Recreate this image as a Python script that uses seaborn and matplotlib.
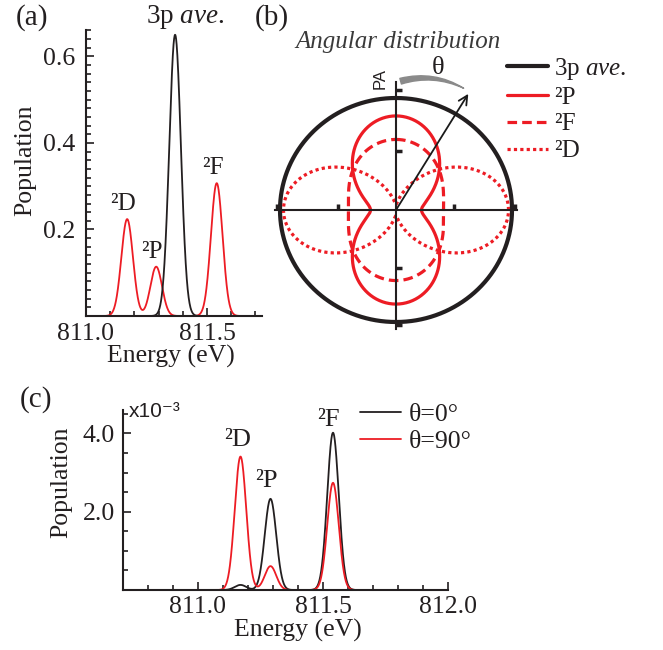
import numpy as np
import pandas as pd
import matplotlib
matplotlib.use('Agg')
import matplotlib.pyplot as plt
from matplotlib.ticker import MultipleLocator, FuncFormatter
import seaborn as sns

# ---- data ----
# peak centres of the three terms (eV), shared by panels (a) and (c)
term_names = ['²D', '²P', '²F']
term_energy = [811.17, 811.29, 811.54]

# panel (a): populations
term_pop_a = [0.224, 0.114, 0.307]
ave_energy = 811.368
ave_pop = 0.65
width_a = 0.024

# panel (b): radius of the angular distribution at theta=0 (along PA) and theta=90
dist_names = ['3p $\\mathit{ave.}$', '²P', '²F', '²D']
r_theta0 = [1.0, 0.84, 0.63, 0.05]
r_theta90 = [1.0, 0.22, 0.41, 0.97]
arrow_theta = 31   # deg
arrow_len = 1.21

# panel (c): populations in units of 1e-3
pop_theta0 = [0.13, 2.33, 4.02]
pop_theta90 = [3.41, 0.61, 2.74]
width_c = 0.023

BLACK = '#231f20'
RED = '#ed1c24'
FS = 18.5

sns.set_theme(style='ticks')
plt.rcParams['font.family'] = ['Liberation Serif', 'DejaVu Serif']
plt.rcParams['mathtext.fontset'] = 'custom'
plt.rcParams['mathtext.rm'] = 'Liberation Serif'
plt.rcParams['mathtext.it'] = 'Liberation Serif:italic'
plt.rcParams['text.color'] = BLACK
plt.rcParams['axes.labelcolor'] = BLACK
plt.rcParams['xtick.color'] = BLACK
plt.rcParams['ytick.color'] = BLACK
plt.rcParams['axes.edgecolor'] = BLACK


def spectrum(x, centres, heights, w):
    y = np.zeros_like(x)
    for c, h in zip(centres, heights):
        y += h * np.exp(-(x - c) ** 2 / (2 * w ** 2))
    return y


def style_axis(ax):
    sns.despine(ax=ax)
    for s in ['left', 'bottom']:
        ax.spines[s].set_linewidth(1.5)
    ax.tick_params(which='both', direction='in', labelsize=FS, width=1.2)
    ax.tick_params(which='major', length=6)
    ax.tick_params(which='minor', length=3.5)


fig = plt.figure(figsize=(6.63, 6.5), dpi=100)

# ---------------- (a) ----------------
ax_a = fig.add_axes([86 / 663, 1 - 316 / 650, 176 / 663, 286 / 650])
xa = np.linspace(810.9, 811.8, 1200)
df_a = pd.DataFrame({'Energy': np.concatenate([xa, xa]),
                     'Population': np.concatenate([spectrum(xa, term_energy, term_pop_a, width_a),
                                                   spectrum(xa, [ave_energy], [ave_pop], width_a)]),
                     'curve': ['terms'] * len(xa) + ['ave'] * len(xa)})
sns.lineplot(data=df_a, x='Energy', y='Population', hue='curve',
             palette={'terms': RED, 'ave': BLACK}, lw=1.3, legend=False, ax=ax_a)
ax_a.set_xlim(811.0, 811.727)
ax_a.set_ylim(0, 0.661)
style_axis(ax_a)
ax_a.xaxis.set_major_locator(MultipleLocator(0.5))
ax_a.xaxis.set_minor_locator(MultipleLocator(0.1))
ax_a.yaxis.set_major_locator(MultipleLocator(0.2))
ax_a.yaxis.set_minor_locator(MultipleLocator(0.02))
ax_a.yaxis.set_major_formatter(FuncFormatter(lambda v, _: '' if abs(v) < 1e-9 else f'{v:.1f}'))
ax_a.tick_params(axis='y', pad=8)
ax_a.tick_params(axis='x', pad=5)
ax_a.set_xlabel('Energy (eV)', fontsize=FS)
ax_a.set_ylabel('Population', fontsize=FS)
ax_a.xaxis.set_label_coords(0.483, -0.10)
ax_a.yaxis.set_label_coords(-0.28, 0.545)
for name, e, p in zip(term_names, term_energy, term_pop_a):
    ax_a.annotate(name, xy=(e, p), xytext=(-3, 3), textcoords='offset points',
                  ha='center', va='bottom', fontsize=18)
ax_a.annotate('3p $\\mathit{ave.}$', xy=(ave_energy, ave_pop), xytext=(7, 13),
              textcoords='offset points', ha='center', va='center',
              fontsize=19.5, annotation_clip=False)

# ---------------- (b) ----------------
ax_b = fig.add_axes([(396 - 1.3 * 116) / 663, 1 - (210 + 1.3 * 112) / 650,
                     2.6 * 116 / 663, 2.6 * 112 / 650])
theta = np.linspace(0, 2 * np.pi, 721)
line_styles = ['-', '-', (0, (3.0, 1.6)), (0, (1, 1))]
line_colors = [BLACK, RED, RED, RED]
line_widths = [3.0, 2.3, 2.3, 2.3]
for name, r0, r90, ls, c, lw in zip(dist_names, r_theta0, r_theta90,
                                     line_styles, line_colors, line_widths):
    r = r0 * np.cos(theta) ** 2 + r90 * np.sin(theta) ** 2
    df_b = pd.DataFrame({'x': r * np.sin(theta), 'y': r * np.cos(theta)})
    sns.lineplot(data=df_b, x='x', y='y', sort=False, estimator=None, color=c,
                 lw=lw, linestyle=ls, label=name, ax=ax_b, zorder=3)
ax_b.set_xlim(-1.3, 1.3)
ax_b.set_ylim(-1.3, 1.3)
ax_b.set_xlabel('')
ax_b.set_ylabel('')
for s in ['top', 'right']:
    ax_b.spines[s].set_visible(False)
ax_b.spines['left'].set_position('zero')
ax_b.spines['bottom'].set_position('zero')
ax_b.spines['left'].set_bounds(-1.06, 1.14)
ax_b.spines['bottom'].set_bounds(-1.04, 1.04)
for s in ['left', 'bottom']:
    ax_b.spines[s].set_linewidth(1.5)
    ax_b.spines[s].set_zorder(4)
ax_b.set_xticks([-1.03, -0.5, 0.5, 1.03])
ax_b.set_yticks([-1.03, -0.52, 0.53, 1.07])
ax_b.tick_params(direction='in', length=4, width=2.5, labelleft=False, labelbottom=False)
ax_b.patch.set_alpha(0)

a = np.deg2rad(arrow_theta)
tip = (arrow_len * np.sin(a), arrow_len * np.cos(a))
ax_b.annotate('', xy=tip, xytext=(0, 0),
              arrowprops=dict(arrowstyle='->', lw=1.3, color='k', mutation_scale=16,
                              shrinkA=0, shrinkB=0), zorder=5)
ax_b.annotate('', xy=(tip[0] - 0.04, tip[1] + 0.05), xytext=(0.04, 1.15),
              arrowprops=dict(arrowstyle='wedge,tail_width=0.35,shrink_factor=0.6',
                              color='#8a8a8a', connectionstyle='arc3,rad=-0.2',
                              shrinkA=0, shrinkB=0), annotation_clip=False)
ax_b.text(0.36, 1.27, 'θ', fontsize=19, ha='center', va='center')
ax_b.text(-0.14, 1.17, 'PA', fontsize=12, rotation=90, ha='center', va='center',
          family=['Liberation Sans', 'DejaVu Sans'])
ax_b.legend(loc='upper left', bbox_to_anchor=(507 / 663, 1 - 56 / 650),
            bbox_transform=fig.transFigure, frameon=False, borderpad=0,
            borderaxespad=0, fontsize=18, handlelength=1.65, handletextpad=0.25,
            labelspacing=0.17)
fig.text(398 / 663, 1 - 42 / 650, 'Angular distribution', style='italic',
         fontsize=18, color='#3a3a3a', ha='center', va='center')

# ---------------- (c) ----------------
ax_c = fig.add_axes([123 / 663, 1 - 590 / 650, 325 / 663, 180 / 650])
xc = np.linspace(810.7, 812.0, 1500)
df_c = pd.DataFrame({'Energy': np.concatenate([xc, xc]),
                     'Population': np.concatenate([spectrum(xc, term_energy, pop_theta0, width_c),
                                                   spectrum(xc, term_energy, pop_theta90, width_c)]),
                     'angle': ['θ=0°'] * len(xc) + ['θ=90°'] * len(xc)})
sns.lineplot(data=df_c, x='Energy', y='Population', hue='angle',
             palette={'θ=0°': BLACK, 'θ=90°': RED}, lw=1.3, ax=ax_c)
ax_c.set_xlim(810.7, 812.0)
ax_c.set_ylim(0, 4.6)
style_axis(ax_c)
ax_c.xaxis.set_major_locator(MultipleLocator(0.5))
ax_c.xaxis.set_minor_locator(MultipleLocator(0.1))
ax_c.yaxis.set_major_locator(MultipleLocator(2.0))
ax_c.yaxis.set_minor_locator(MultipleLocator(0.5))
ax_c.yaxis.set_major_formatter(FuncFormatter(lambda v, _: '' if abs(v) < 1e-9 else f'{v:.1f}'))
ax_c.tick_params(axis='y', pad=6)
ax_c.tick_params(axis='x', pad=4)
ax_c.set_xlabel('Energy (eV)', fontsize=FS)
ax_c.set_ylabel('Population', fontsize=FS)
ax_c.xaxis.set_label_coords(0.538, -0.16)
ax_c.yaxis.set_label_coords(-0.155, 0.6)
label_off = [(-2, 4), (-3, 5), (-3, 1)]
for name, e, p0, p90, off in zip(term_names, term_energy, pop_theta0, pop_theta90, label_off):
    ax_c.annotate(name, xy=(e, max(p0, p90)), xytext=off, textcoords='offset points',
                  ha='center', va='bottom', fontsize=19, annotation_clip=False)
ax_c.legend(loc='upper left', bbox_to_anchor=(360 / 663, 1 - 403 / 650),
            bbox_transform=fig.transFigure, frameon=False, borderpad=0,
            borderaxespad=0, fontsize=FS, handlelength=1.6, handletextpad=0.3,
            labelspacing=0.15)
fig.text(129 / 663, 1 - 417 / 650, 'x10⁻³', fontsize=15, ha='left', va='baseline',
         family=['Liberation Sans', 'DejaVu Sans'])

# panel labels
fig.text(32 / 663, 1 - 18 / 650, '(a)', fontsize=21, ha='center', va='center')
fig.text(272 / 663, 1 - 18 / 650, '(b)', fontsize=21, ha='center', va='center')
fig.text(36 / 663, 1 - 400 / 650, '(c)', fontsize=21, ha='center', va='center')

fig.savefig('out.png', dpi=100)
